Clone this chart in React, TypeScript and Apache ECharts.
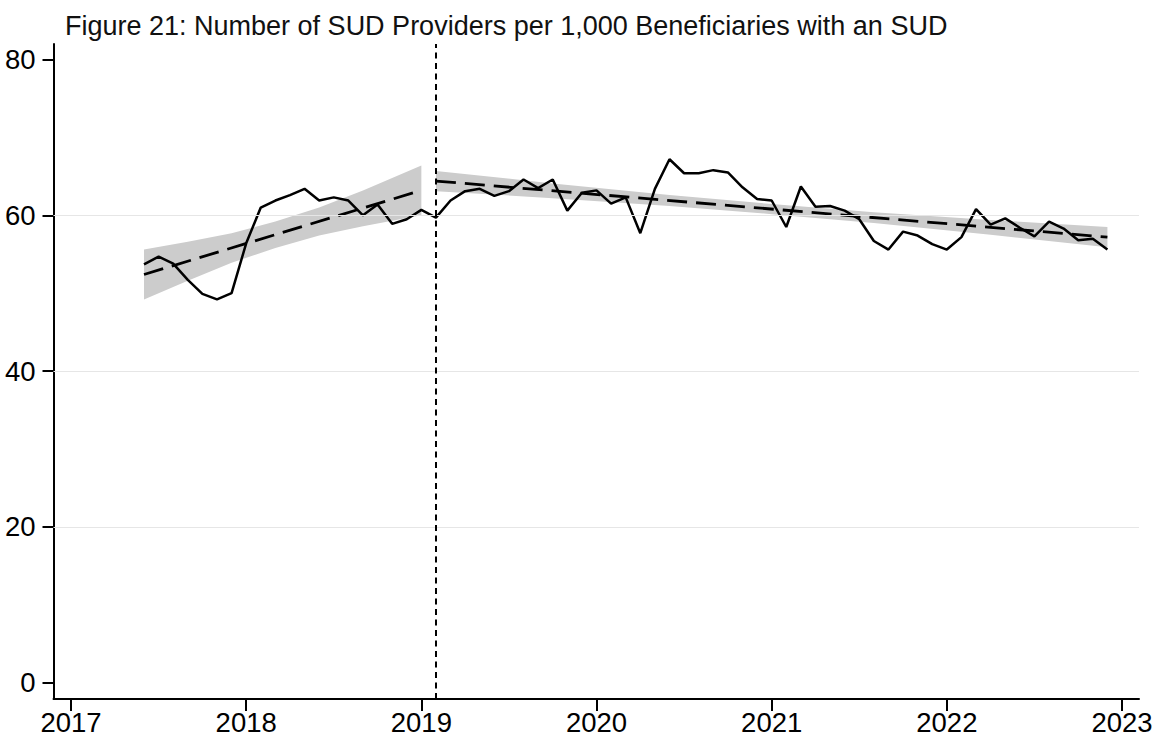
import React, { useEffect, useRef } from "react";
import * as echarts from "echarts";

const TITLE = "Figure 21: Number of SUD Providers per 1,000 Beneficiaries with an SUD";

// Monthly series, June 2017 .. December 2022
const START_YEAR = 2017;
const START_MONTH = 6;
const providers = [
  53.7, 54.7, 53.8, 51.7, 49.9, 49.2, 50.0, 56.4, 61.0, 61.9, 62.6, 63.4, 61.9, 62.3, 61.9, 60.0, 61.4, 58.9, 59.5, 60.7,
  59.7, 61.9, 63.1, 63.4, 62.5, 63.1, 64.6, 63.5, 64.6, 60.6, 62.9, 63.2, 61.5, 62.3, 57.7, 63.4, 67.2, 65.4, 65.4, 65.8,
  65.5, 63.6, 62.1, 61.9, 58.5, 63.7, 61.1, 61.2, 60.6, 59.5, 56.7, 55.6, 57.9, 57.4, 56.3, 55.6, 57.2, 60.8, 58.8, 59.6,
  58.4, 57.3, 59.2, 58.3, 56.8, 57.0, 55.6,
];

// Linear fits (month index -> value)
const preFitIdx = [0, 19];
const preFitVal = [52.4, 63.2];
const postFitIdx = [20, 66];
const postFitVal = [64.4, 57.2];

// Confidence bands (month index, upper, lower)
const preBandIdx = [0, 3, 6, 9, 12, 15, 19];
const preBandUpper = [55.6, 56.6, 57.7, 59.2, 61.0, 63.2, 66.4];
const preBandLower = [49.2, 51.6, 53.9, 55.8, 57.4, 58.6, 60.0];
const postBandIdx = [20, 28, 36, 43, 50, 58, 66];
const postBandUpper = [65.7, 64.1, 62.6, 61.45, 60.4, 59.4, 58.5];
const postBandLower = [63.1, 62.2, 61.2, 60.15, 59.0, 57.5, 55.9];

const policyMonthIdx = 20; // February 2019

const xTicks = [2017, 2018, 2019, 2020, 2021, 2022, 2023];
const yTicks = [0, 20, 40, 60, 80];
const gridValues = [20, 40, 60];

const monthToYear = (i: number) => START_YEAR + (START_MONTH - 1 + i) / 12;

const FONT = "'Liberation Sans', Arial, Helvetica, sans-serif";

export default function App() {
  const ref = useRef<HTMLDivElement>(null);
  useEffect(() => {
    if (!ref.current) return;
    const chart = echarts.init(ref.current, undefined, { renderer: "svg" });
    const bandSeries = (idx: number[], up: number[], lo: number[]) => {
      const rows = idx.map((m, k) => [monthToYear(m), lo[k], up[k]]);
      return {
        type: "custom",
        silent: true,
        z: 1,
        data: rows,
        encode: { x: 0, y: [1, 2] },
        renderItem: (params: any, api: any) => {
          if (params.dataIndex !== 0) return null;
          const upper = rows.map((r) => api.coord([r[0], r[2]]));
          const lower = rows.map((r) => api.coord([r[0], r[1]])).reverse();
          return {
            type: "polygon",
            shape: { points: upper.concat(lower) },
            style: { fill: "#cccccc", stroke: "none" },
          };
        },
      };
    };
    const fitSeries = (idx: number[], vals: number[]) => ({
      type: "line",
      symbol: "none",
      silent: true,
      z: 3,
      lineStyle: { color: "#000", width: 2.8, type: [20, 9] },
      data: idx.map((m, k) => [monthToYear(m), vals[k]]),
    });
    const series: any[] = [
      {
        type: "line",
        data: [[monthToYear(0), providers[0]]],
        symbol: "none",
        lineStyle: { opacity: 0 },
        silent: true,
        z: 0,
        markLine: {
          silent: true,
          symbol: ["none", "none"],
          label: { show: false },
          lineStyle: { color: "#e6e6e6", width: 1, type: "solid" },
          data: gridValues.map((v) => ({ yAxis: v })),
        },
      },
      bandSeries(preBandIdx, preBandUpper, preBandLower),
      bandSeries(postBandIdx, postBandUpper, postBandLower),
      fitSeries(preFitIdx, preFitVal),
      fitSeries(postFitIdx, postFitVal),
      {
        type: "line",
        symbol: "none",
        z: 4,
        lineStyle: { color: "#000", width: 2.5 },
        data: providers.map((v, i) => [monthToYear(i), v]),
        markLine: {
          silent: true,
          symbol: ["none", "none"],
          label: { show: false },
          lineStyle: { color: "#000", width: 2, type: [6, 4.5] },
          data: [{ xAxis: monthToYear(policyMonthIdx) }],
        },
      },
    ];
    chart.setOption({
      animation: false,
      backgroundColor: "#ffffff",
      textStyle: { fontFamily: FONT },
      title: {
        text: TITLE,
        left: 60,
        top: 7,
        textStyle: { fontSize: 27, fontWeight: "normal", color: "#111", fontFamily: FONT },
      },
      grid: { left: 53.5, right: 20, top: 44, bottom: 44, containLabel: false },
      xAxis: {
        type: "value",
        min: 2016.9,
        max: 2023.097,
        axisLine: { show: true, onZero: false, lineStyle: { color: "#000", width: 2 } },
        axisTick: { show: true, customValues: xTicks, length: 12, lineStyle: { color: "#000", width: 2 } },
        axisLabel: {
          customValues: xTicks,
          fontSize: 27.5,
          color: "#000",
          margin: 9,
          fontFamily: FONT,
          formatter: (v: number) => String(Math.round(v)),
        },
        splitLine: { show: false },
      },
      yAxis: {
        type: "value",
        min: -2.12,
        max: 82,
        axisLine: { show: true, onZero: false, lineStyle: { color: "#000", width: 2 } },
        axisTick: { show: true, customValues: yTicks, length: 11, lineStyle: { color: "#000", width: 2 } },
        axisLabel: {
          customValues: yTicks,
          fontSize: 27.5,
          color: "#000",
          margin: 18,
          fontFamily: FONT,
          formatter: (v: number) => String(Math.round(v)),
        },
        splitLine: { show: false },
      },
      series,
    });
    return () => chart.dispose();
  }, []);
  return (
    <div
      ref={ref}
      style={{ position: "fixed", left: 0, top: 0, width: 1159, height: 743, background: "#fff" }}
    />
  );
}
